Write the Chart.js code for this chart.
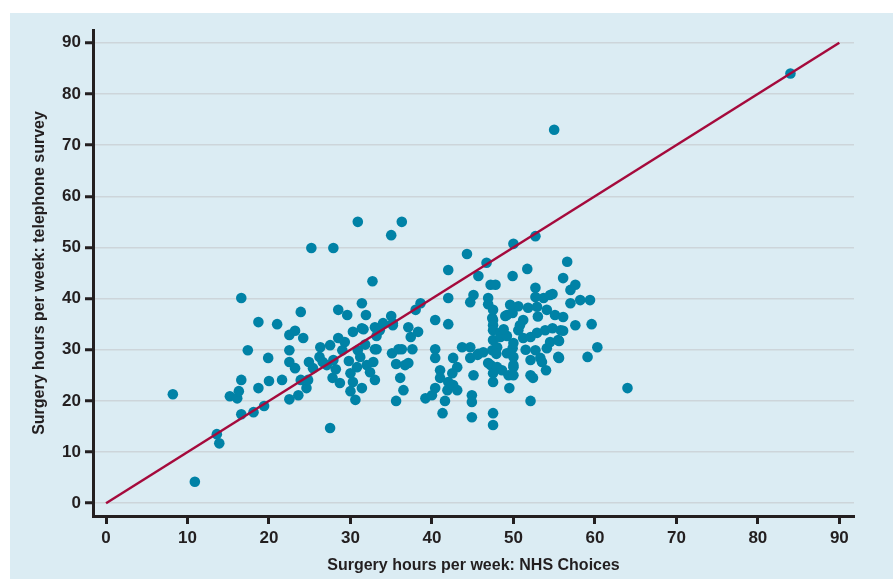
<!DOCTYPE html>
<html>
<head>
<meta charset="utf-8">
<script src="https://cdn.jsdelivr.net/npm/chart.js@4/dist/chart.umd.min.js"></script>
<style>
  html, body { margin: 0; padding: 0; background: #ffffff; }
  #panel { position: absolute; left: 10px; top: 13px; width: 883px; height: 566px; background: #dbecf3; }
  #chart { display: block; }
</style>
</head>
<body>
<div id="panel"><canvas id="chart" width="883" height="566"></canvas></div>
<script>
// Surgery hours per week, one practice per point
const nhsHours = [
    8.2, 10.9, 13.6, 13.9, 15.2, 16.1, 16.3, 16.6, 16.6, 16.6, 17.4, 18.1, 18.7, 18.7, 19.4, 19.9,
    20.0, 21.0, 21.6, 22.5, 22.5, 22.5, 22.5, 23.2, 23.2, 23.6, 23.9, 23.9, 24.2, 24.6, 24.8, 24.9,
    25.2, 25.4, 26.2, 26.3, 26.6, 27.1, 27.5, 27.5, 27.8, 27.9, 27.9, 28.5, 28.5, 28.7, 29.0, 29.3,
    29.6, 30.0, 30.0, 30.3, 30.3, 30.6, 30.8, 30.9, 30.9, 31.2, 31.4, 31.4, 31.4, 31.6, 31.9, 32.0,
    32.4, 32.7, 32.8, 33.0, 33.0, 33.0, 33.2, 33.2, 33.6, 34.0, 35.0, 35.0, 35.1, 35.2, 35.2, 35.6,
    35.6, 35.9, 36.3, 36.3, 36.1, 36.5, 36.7, 37.1, 37.1, 37.4, 37.6, 38.0, 38.3, 38.6, 39.2, 40.0,
    40.4, 40.4, 40.4, 40.4, 41.0, 41.0, 41.3, 41.6, 41.9, 42.0, 42.0, 42.0, 42.0, 42.5, 42.6, 42.6,
    43.1, 43.1, 43.7, 44.3, 44.7, 44.7, 44.7, 44.9, 44.9, 44.9, 45.1, 45.1, 45.6, 45.7, 45.7, 46.3,
    46.7, 46.9, 46.9, 46.9, 47.2, 47.2, 47.4, 47.4, 47.5, 47.5, 47.5, 47.5, 47.5, 47.5, 47.5, 47.5,
    47.5, 47.8, 48.0, 48.4, 48.4, 48.6, 49.0, 49.2, 49.2, 49.2, 49.4, 49.5, 49.9, 49.9, 49.9, 50.0,
    50.0, 50.0, 50.0, 50.0, 50.0, 50.6, 50.6, 51.2, 51.2, 51.7, 51.8, 52.1, 52.1, 52.1, 52.1, 52.4,
    52.7, 52.7, 52.7, 52.7, 52.9, 52.9, 53.3, 53.5, 53.7, 53.9, 54.0, 54.1, 54.1, 54.5, 54.5, 54.8,
    54.8, 55.0, 55.1, 55.5, 55.5, 55.6, 55.6, 55.8, 56.1, 56.1, 56.1, 56.6, 57.0, 57.0, 57.6, 57.6,
    58.2, 59.1, 59.4, 59.6, 60.3, 64.0, 84.0,
    48.0, 48.8, 50.8, 51.5, 49.6, 29.8, 31.8, 28.2, 47.9, 53.0
];
const phoneHours = [
    21.3, 4.2, 13.5, 11.7, 20.9, 20.5, 21.9, 24.1, 17.4, 40.1, 29.9, 17.8, 35.4, 22.5, 19.0, 28.4,
    23.9, 35.0, 24.1, 32.9, 29.9, 27.6, 20.3, 33.7, 26.4, 21.1, 37.4, 24.1, 32.3, 22.5, 24.1, 27.6,
    49.9, 26.4, 28.6, 30.5, 27.6, 27.0, 30.9, 14.7, 24.5, 49.9, 28.0, 37.8, 32.3, 23.5, 29.9, 31.5,
    36.8, 25.4, 21.9, 33.5, 23.7, 20.2, 26.6, 55.0, 29.9, 28.6, 39.1, 34.2, 22.5, 34.0, 36.8, 27.0,
    25.6, 43.4, 27.6, 34.4, 30.1, 24.1, 30.1, 32.7, 33.8, 35.2, 52.4, 36.6, 29.3, 35.2, 34.8, 27.2,
    20.0, 30.1, 55.0, 30.1, 24.5, 22.1, 27.0, 34.4, 27.4, 32.5, 30.1, 37.8, 33.5, 39.1, 20.5, 21.1,
    35.8, 30.1, 28.4, 22.5, 26.0, 24.5, 17.6, 20.0, 22.1, 45.6, 40.1, 35.0, 23.7, 25.4, 28.4, 23.1,
    26.6, 22.1, 30.5, 48.7, 39.3, 30.5, 28.4, 21.1, 19.8, 16.8, 40.7, 25.0, 29.0, 44.4, 29.2, 29.5,
    47.0, 40.1, 38.9, 27.4, 42.7, 27.0, 36.2, 29.9, 37.8, 35.8, 34.8, 33.8, 31.9, 25.4, 23.7, 17.6,
    15.3, 42.7, 26.6, 33.3, 32.5, 26.0, 36.6, 36.8, 32.7, 29.3, 25.0, 22.5, 44.4, 37.2, 30.3, 50.7,
    31.3, 28.6, 27.0, 26.6, 25.0, 38.5, 33.8, 35.8, 32.3, 45.8, 38.2, 32.5, 28.0, 25.0, 20.0, 24.5,
    52.2, 42.1, 40.3, 29.9, 38.4, 33.3, 28.4, 27.6, 40.1, 33.8, 26.0, 37.8, 30.3, 40.7, 31.5, 40.9,
    34.2, 73.0, 36.8, 31.9, 28.6, 31.7, 28.4, 33.8, 44.0, 36.4, 33.7, 47.2, 41.7, 39.1, 42.7, 34.8,
    39.7, 28.6, 39.7, 35.0, 30.5, 22.5, 84.0,
    30.5, 34.0, 34.8, 30.0, 38.8, 27.8, 31.0, 26.2, 29.2, 36.5
];

// line of equality
const equalityX = [0, 90];
const equalityY = [0, 90];

const tickValues = [0, 10, 20, 30, 40, 50, 60, 70, 80, 90];

const points = nhsHours.map((x, i) => ({ x: x, y: phoneHours[i] }));
const equality = equalityX.map((x, i) => ({ x: x, y: equalityY[i] }));

const ink = '#231f20';
const tickFont = { family: 'Liberation Sans, Arial, sans-serif', size: 17, weight: 'bold' };
const titleFont = { family: 'Liberation Sans, Arial, sans-serif', size: 16, weight: 'bold' };

const ctx = document.getElementById('chart').getContext('2d');
new Chart(ctx, {
    type: 'scatter',
    data: {
        datasets: [
            {
                data: equality,
                showLine: true,
                borderColor: '#a50a3c',
                borderWidth: 2.5,
                pointRadius: 0,
                fill: false
            },
            {
                data: points,
                backgroundColor: '#0082a6',
                borderWidth: 0,
                pointRadius: 5.3
            }
        ]
    },
    options: {
        responsive: false,
        animation: false,
        layout: { padding: { top: 17, right: 39, left: 0, bottom: 0 } },
        plugins: {
            legend: { display: false },
            tooltip: { enabled: false }
        },
        scales: {
            x: {
                type: 'linear',
                min: -1.6,
                max: 91.8,
                afterBuildTicks: (scale) => { scale.ticks = tickValues.map(v => ({ value: v })); },
                afterFit: (scale) => { scale.height = 63; },
                border: { display: true, color: ink, width: 3 },
                grid: {
                    drawOnChartArea: false,
                    drawTicks: true,
                    tickLength: 8,
                    tickColor: ink,
                    tickWidth: 3
                },
                ticks: { color: ink, font: tickFont, padding: 4, maxRotation: 0 },
                title: {
                    display: true,
                    text: 'Surgery hours per week: NHS Choices',
                    color: ink,
                    font: titleFont,
                    padding: { top: 2, bottom: 4 }
                }
            },
            y: {
                type: 'linear',
                min: -2.5,
                max: 92.5,
                afterBuildTicks: (scale) => { scale.ticks = tickValues.map(v => ({ value: v })); },
                afterFit: (scale) => { scale.width = 83; },
                border: { display: true, color: ink, width: 3 },
                grid: {
                    color: '#cdd5da',
                    lineWidth: 1.5,
                    drawTicks: true,
                    tickLength: 8,
                    tickColor: ink,
                    tickWidth: 3
                },
                ticks: { color: ink, font: tickFont, padding: 4 },
                title: {
                    display: true,
                    text: 'Surgery hours per week: telephone survey',
                    color: ink,
                    font: titleFont,
                    padding: { top: 20, bottom: 0 }
                }
            }
        }
    }
});
</script>
</body>
</html>
